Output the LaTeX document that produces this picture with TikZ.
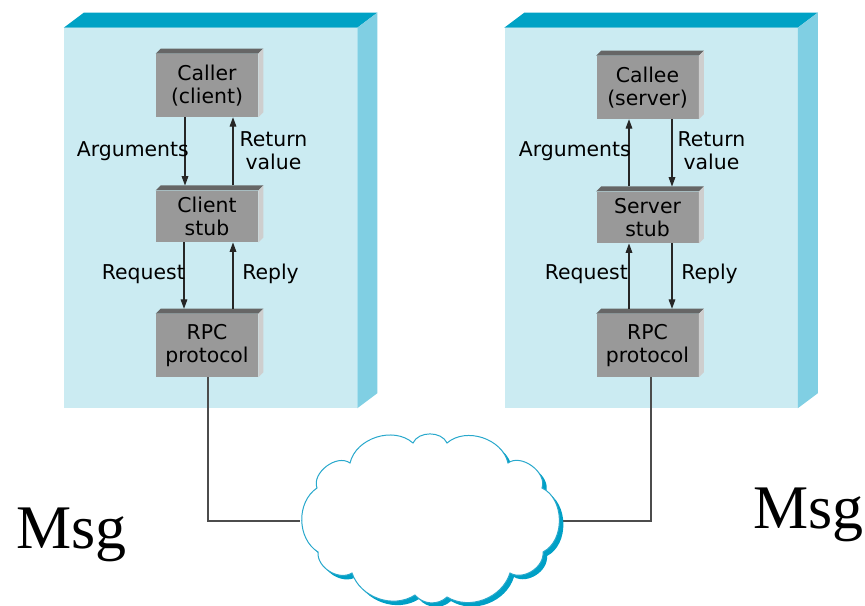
\documentclass[tikz,border=0pt]{standalone}
\usepackage{fontspec}
\setmainfont{DejaVu Sans}
\newfontfamily\msgfont{Liberation Serif}
\usetikzlibrary{arrows.meta}
\definecolor{panelfront}{RGB}{203,235,242}
\definecolor{paneltop}{RGB}{0,162,197}
\definecolor{panelside}{RGB}{128,207,227}
\definecolor{boxtopc}{RGB}{102,102,102}
\definecolor{boxfront}{RGB}{153,153,153}
\definecolor{boxsidec}{RGB}{206,206,206}
\definecolor{cloudline}{RGB}{40,168,204}
\definecolor{cloudshadow}{RGB}{0,160,198}
\begin{document}
\begin{tikzpicture}[x=0.75pt,y=-0.75pt,
  lbl/.style={font=\fontsize{15.3}{17.25}\selectfont, inner sep=0pt, text=black},
  box/.style={fill=boxfront, minimum width=76.5pt, inner sep=0pt, align=center,
              font=\fontsize{15.3}{17.25}\selectfont},
  tallbox/.style={box, minimum height=47.25pt},
  stubbox/.style={box, minimum height=38.6pt},
  panel/.style={fill=panelfront, minimum width=219.75pt, minimum height=285pt, inner sep=0pt},
  flow/.style={draw=black!85, line width=0.8pt, -{Triangle[length=7pt,width=5pt]}},
  wire/.style={draw=black!70, line width=0.9pt},
  msg/.style={font=\msgfont\fontsize{46.5}{50}\selectfont, inner sep=0pt, anchor=base west}
]
\useasboundingbox (0,0) rectangle (865,606);

% panels
\node[panel] (panelL) at (210.5,218) {};
\node[panel] (panelR) at (651,218) {};
\foreach \p in {panelL,panelR}{
  \fill[paneltop] (\p.north west) -- ++(20,-15) -- ([shift={(20,-15)}]\p.north east) -- (\p.north east) -- cycle;
  \fill[panelside] (\p.north east) -- ++(20,-15) -- ([shift={(20,-15)}]\p.south east) -- (\p.south east) -- cycle;
}

% boxes
\node[tallbox] (caller) at (207,85.5) {Caller\\(client)};
\node[stubbox] (cstub) at (207,216.5) {Client\\stub};
\node[tallbox] (crpc) at (207,345.5) {RPC\\protocol};
\node[tallbox] (callee) at (647.5,87.5) {Callee\\(server)};
\node[stubbox] (sstub) at (647.5,217.5) {Server\\stub};
\node[tallbox] (srpc) at (647.5,345.5) {RPC\\protocol};
\foreach \n in {caller,cstub,crpc,callee,sstub,srpc}{
  \fill[boxtopc] (\n.north west) -- ++(5,-5) -- ([shift={(5,-5)}]\n.north east) -- (\n.north east) -- cycle;
  \fill[boxsidec] (\n.north east) -- ++(5,-5) -- ([shift={(5,-5)}]\n.south east) -- (\n.south east) -- cycle;
}

% left arrows
\draw[flow] ([xshift=-16.5pt]caller.south) -- ([xshift=-16.5pt,yshift=3.75pt]cstub.north);
\draw[flow] ([xshift=19.5pt,yshift=3.75pt]cstub.north) -- ([xshift=19.5pt]caller.south);
\draw[flow] ([xshift=-17.25pt]cstub.south) -- ([xshift=-17.25pt,yshift=3.75pt]crpc.north);
\draw[flow] ([xshift=19.5pt,yshift=3.75pt]crpc.north) -- ([xshift=19.5pt]cstub.south);
% right arrows
\draw[flow] ([xshift=-13.875pt,yshift=3.75pt]sstub.north) -- ([xshift=-13.875pt]callee.south);
\draw[flow] ([xshift=18.375pt]callee.south) -- ([xshift=18.375pt,yshift=3.75pt]sstub.north);
\draw[flow] ([xshift=-13.875pt,yshift=3.75pt]srpc.north) -- ([xshift=-13.875pt]sstub.south);
\draw[flow] ([xshift=18.375pt]sstub.south) -- ([xshift=18.375pt,yshift=3.75pt]srpc.north);

% labels
\node[lbl, anchor=base east] (argL) at (189,157) {Arguments};
\node[lbl, align=center] (retL) at (273.5,151) {Return\\value};
\node[lbl, anchor=base east] (reqL) at (185,280) {Request};
\node[lbl, anchor=base west] (repL) at (242,280) {Reply};
\node[lbl, anchor=base east] (argR) at (631,157) {Arguments};
\node[lbl, align=center] (retR) at (711.5,151) {Return\\value};
\node[lbl, anchor=base east] (reqR) at (628,280) {Request};
\node[lbl, anchor=base west] (repR) at (681,280) {Reply};

% cloud
\coordinate (cloudW) at (300,521);
\coordinate (cloudE) at (562,521);
\def\cloudpath{(317,488) to[bend left=73] (350,463) to[bend left=59] (413,443)
  to[bend left=66] (447,443) to[bend left=59] (508,463) to[bend left=73] (542,488)
  to[bend left=64] (543,552) to[bend left=63] (510,573) to[bend left=52] (447,597)
  to[bend left=47] (415,595) to[bend left=52] (352,573) to[bend left=63] (318,552)
  to[bend left=57] cycle}

\draw[wire] ([xshift=0.75pt]crpc.south) |- (cloudW);
\draw[wire] (cloudE) -| ([xshift=2.6pt]srpc.south);

\fill[cloudshadow, shift={(4,4)}] \cloudpath;
\filldraw[fill=white, draw=cloudline, line width=0.75pt] \cloudpath;

% Msg texts
\node[msg] (msgL) at (16,548) {Msg};
\node[msg] (msgR) at (753,528) {Msg};
\end{tikzpicture}
\end{document}
